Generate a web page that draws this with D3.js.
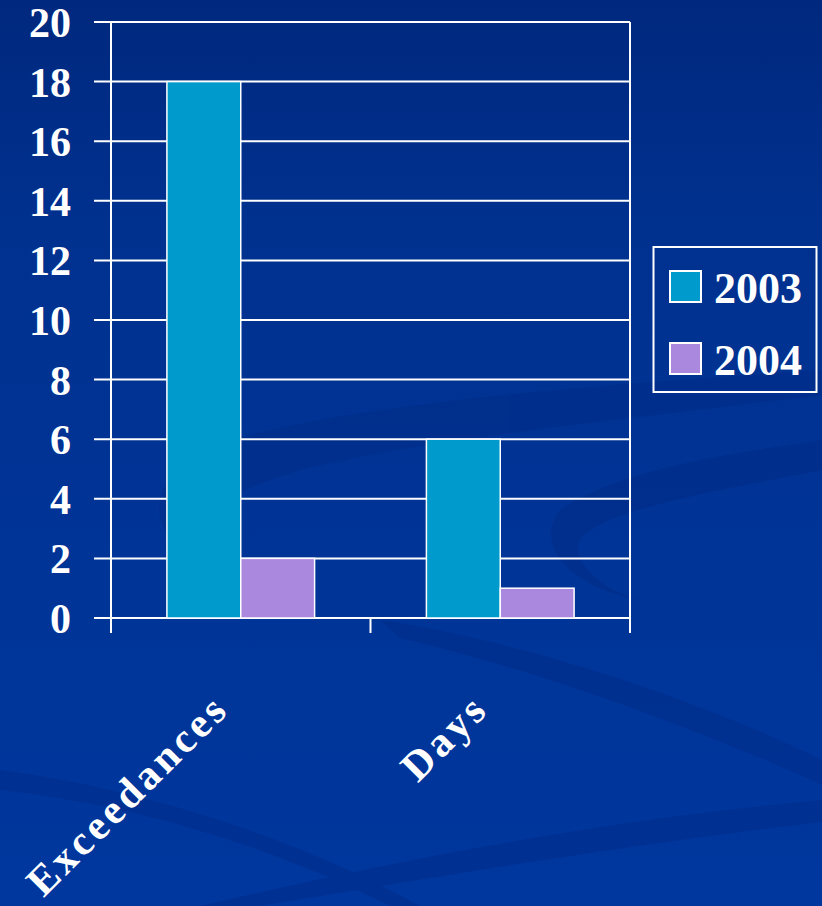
<!DOCTYPE html>
<html><head><meta charset="utf-8">
<script src="https://cdn.jsdelivr.net/npm/d3@7"></script>
<style>html,body{margin:0;padding:0;background:#003399;}svg{display:block;}</style>
</head><body>
<svg id="c" width="822" height="906"></svg>
<script>
const categories = ["Exceedances", "Days"];
const seriesNames = ["2003", "2004"];
const values2003 = [18, 6];
const values2004 = [2, 1];
const yTicks = [0, 2, 4, 6, 8, 10, 12, 14, 16, 18, 20];
const colors = ["#009ACC", "#AA88DD"];

const svg = d3.select("#c");
const W = 822, H = 906;
const defs = svg.append("defs");
const g0 = defs.append("linearGradient").attr("id","bg").attr("x1",0).attr("y1",0).attr("x2",0).attr("y2",1);
g0.append("stop").attr("offset","0").attr("stop-color","#00287e");
g0.append("stop").attr("offset","0.25").attr("stop-color","#00318f");
g0.append("stop").attr("offset","1").attr("stop-color","#00379e");
svg.append("rect").attr("width",W).attr("height",H).attr("fill","url(#bg)");

// background swooshes
const sw = svg.append("g").attr("fill","#002a85").attr("opacity",0.45);
sw.append("path").attr("d","M230,440 C380,400 600,385 822,370 L822,395 C620,420 420,440 300,470 C200,500 160,540 240,570 C150,560 120,480 230,440 Z");
sw.append("path").attr("d","M560,510 C620,470 720,455 822,440 L822,470 C720,490 600,510 580,540 C570,560 600,590 640,600 C580,590 530,550 560,510 Z");
sw.append("path").attr("d","M380,620 C520,640 700,700 822,760 L822,785 C700,730 540,670 400,638 Z");
sw.append("path").attr("d","M0,770 C150,790 300,840 420,906 L390,906 C280,850 140,805 0,790 Z");
sw.append("path").attr("d","M200,906 C400,860 600,820 822,800 L822,822 C620,845 420,880 260,906 Z");

const m = {l:111, r:630, t:22, b:618};
const x = d3.scaleBand().domain(categories).range([m.l, m.r]).padding(0);
const xs = d3.scaleBand().domain(seriesNames).range([0, x.bandwidth()]).paddingInner(0).paddingOuter(0.757);
const y = d3.scaleLinear().domain([0, 20]).range([m.b, m.t]);

// gridlines
svg.append("g").selectAll("line").data(yTicks).join("line")
  .attr("x1", m.l - 17).attr("x2", m.r).attr("y1", d=>y(d)).attr("y2", d=>y(d))
  .attr("stroke","#fff").attr("stroke-width",2);
// axis lines
svg.append("line").attr("x1",m.l).attr("x2",m.l).attr("y1",m.t).attr("y2",m.b+15).attr("stroke","#fff").attr("stroke-width",2);
svg.append("line").attr("x1",m.r).attr("x2",m.r).attr("y1",m.t).attr("y2",m.b+15).attr("stroke","#fff").attr("stroke-width",2);
svg.append("line").attr("x1",x(categories[1])).attr("x2",x(categories[1])).attr("y1",m.b).attr("y2",m.b+15).attr("stroke","#fff").attr("stroke-width",2);

// bars
const data = categories.map((c,i)=>({c, vals:[values2003[i], values2004[i]]}));
svg.append("g").selectAll("g").data(data).join("g")
  .attr("transform", d=>`translate(${x(d.c)},0)`)
  .selectAll("rect").data(d=>d.vals.map((v,j)=>({v, s:seriesNames[j], j})))
  .join("rect")
  .attr("x", d=>xs(d.s)).attr("width", xs.bandwidth())
  .attr("y", d=>y(d.v)).attr("height", d=>y(0)-y(d.v))
  .attr("fill", d=>colors[d.j]).attr("stroke","#fff").attr("stroke-width",1.5);

// y tick labels
svg.append("g").selectAll("text").data(yTicks).join("text")
  .attr("x", 71).attr("y", d=>y(d)+15).attr("text-anchor","end")
  .attr("font-family","'Liberation Serif','Times New Roman',serif").attr("font-weight","bold")
  .attr("font-size",42).attr("fill","#fff").text(d=>d);

// x labels
svg.append("g").selectAll("text").data(categories).join("text")
  .attr("transform", d=>`translate(${x(d)+x.bandwidth()/2-10},${711}) rotate(-45)`)
  .attr("text-anchor","end").attr("letter-spacing",3.5)
  .attr("font-family","'Liberation Serif','Times New Roman',serif").attr("font-weight","bold")
  .attr("font-size",42).attr("fill","#fff").text(d=>d);

// legend
const lg = svg.append("g");
lg.append("rect").attr("x",653.5).attr("y",247).attr("width",163).attr("height",145)
  .attr("fill","none").attr("stroke","#fff").attr("stroke-width",2);
seriesNames.forEach((s,i)=>{
  const yy = 271 + i*72;
  lg.append("rect").attr("x",670).attr("y",yy).attr("width",31).attr("height",31)
    .attr("fill",colors[i]).attr("stroke","#fff").attr("stroke-width",2);
  lg.append("text").attr("x",714).attr("y",yy+32)
    .attr("font-family","'Liberation Serif','Times New Roman',serif").attr("font-weight","bold")
    .attr("font-size",44).attr("fill","#fff").text(s);
});
</script>
</body></html>
